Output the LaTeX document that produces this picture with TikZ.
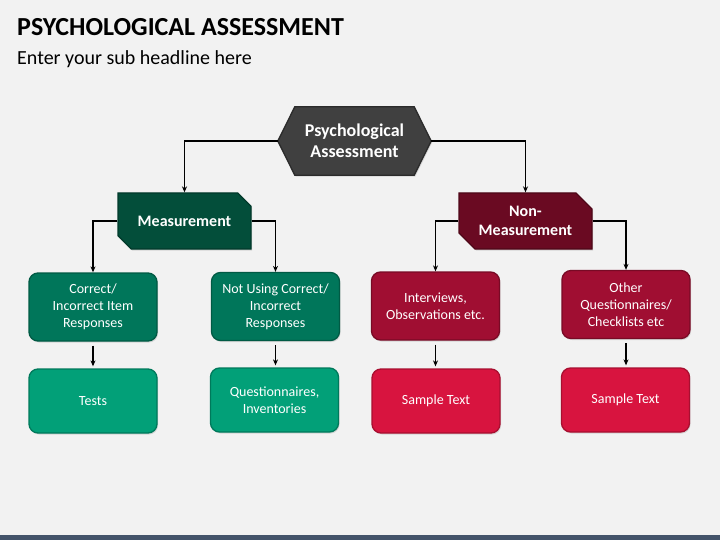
\documentclass[tikz,border=0pt]{standalone}
\usepackage{fontspec}
\setmainfont{Carlito}
\usetikzlibrary{shapes.misc,arrows.meta,backgrounds,shadows}
\definecolor{bg}{HTML}{F2F2F2}
\definecolor{barc}{HTML}{44546A}
\definecolor{hexf}{HTML}{404040}
\definecolor{hexd}{HTML}{2B2B2B}
\definecolor{gA}{HTML}{034E3A}
\definecolor{gAd}{HTML}{023A2B}
\definecolor{gB}{HTML}{00765A}
\definecolor{gBd}{HTML}{005A44}
\definecolor{gC}{HTML}{02A078}
\definecolor{gCd}{HTML}{00795B}
\definecolor{rA}{HTML}{6A0A22}
\definecolor{rAd}{HTML}{4E0718}
\definecolor{rB}{HTML}{A00E32}
\definecolor{rBd}{HTML}{780A25}
\definecolor{rC}{HTML}{D8143F}
\definecolor{rCd}{HTML}{A80F30}
\tikzset{
  shd/.style={drop shadow={shadow xshift=1pt,shadow yshift=-1.5pt,opacity=.25}},
  hexbox/.style={minimum width=153pt,minimum height=68pt,inner sep=0pt,align=center,text=white,
    font=\fontsize{18}{21}\selectfont\bfseries},
  lvlone/.style={chamfered rectangle,chamfered rectangle corners={north east,south west},
    chamfered rectangle xsep=8pt,chamfered rectangle ysep=8pt,
    minimum width=133pt,minimum height=56pt,inner sep=0pt,align=center,text=white,line width=1.3pt,
    font=\fontsize{16}{19}\selectfont\bfseries,shd},
  lvltwo/.style={rectangle,rounded corners=9pt,minimum width=128pt,minimum height=68pt,inner sep=0pt,
    align=center,text=white,line width=1.3pt,font=\fontsize{14}{17}\selectfont,shd},
  lvlthree/.style={lvltwo,minimum height=64pt},
  conn/.style={line width=1.5pt,draw=black},
  arr/.style={conn,-{Stealth[length=6pt,width=5pt]}}
}
\begin{document}
\begin{tikzpicture}[x=1pt,y=-1pt]
\useasboundingbox (0,0) rectangle (720,540);
\begin{scope}[on background layer]
\fill[bg] (0,0) rectangle (720,540);
\fill[barc] (0,535) rectangle (720,540);
\end{scope}
\node[anchor=base west,font=\fontsize{26}{30}\selectfont\bfseries,inner sep=0pt] (title) at (17,36) {PSYCHOLOGICAL ASSESSMENT};
\node[anchor=base west,font=\fontsize{20}{24}\selectfont,inner sep=0pt] (sub) at (17,65) {Enter your sub headline here};

\node[hexbox] (hex) at (354.5,141) {Psychological\\Assessment};
\begin{scope}[on background layer]
\draw[fill=hexf,draw=hexd,line width=1.3pt,shd] (hex.west) -- ([xshift=17pt]hex.north west) -- ([xshift=-17pt]hex.north east) -- (hex.east) -- ([xshift=-17pt]hex.south east) -- ([xshift=17pt]hex.south west) -- cycle;
\end{scope}

\node[lvlone,fill=gA,draw=gAd] (meas) at (184.5,221) {Measurement};
\node[lvlone,fill=rA,draw=rAd] (nonm) at (525.5,221) {Non-\\Measurement};

\node[lvltwo,fill=gB,draw=gBd] (g2a) at (93,307) {Correct/\\Incorrect Item\\Responses};
\node[lvltwo,fill=gB,draw=gBd] (g2b) at (275.5,306.5) {Not Using Correct/\\Incorrect\\Responses};
\node[lvltwo,fill=rB,draw=rBd] (r2a) at (435.5,306) {Interviews,\\Observations etc.};
\node[lvltwo,fill=rB,draw=rBd] (r2b) at (626,304.5) {Other\\Questionnaires/\\Checklists etc};

\node[lvlthree,fill=gC,draw=gCd] (g3a) at (93,401) {Tests};
\node[lvlthree,fill=gC,draw=gCd] (g3b) at (274.5,400) {Questionnaires,\\Inventories};
\node[lvlthree,fill=rC,draw=rCd] (r3a) at (436,401) {Sample Text};
\node[lvlthree,fill=rC,draw=rCd] (r3b) at (625.5,400) {Sample Text};

\draw[arr] (hex.west) -| (meas.north);
\draw[arr] (hex.east) -| (nonm.north);
\draw[arr] (meas.west) -| (g2a.north);
\draw[arr] (meas.east) -| (g2b.north);
\draw[arr] (nonm.west) -| (r2a.north);
\draw[arr] (nonm.east) -| (r2b.north);
\foreach \a/\b in {g2a/g3a,g2b/g3b,r2a/r3a,r2b/r3b}
  \draw[arr,shorten <=4pt,shorten >=2pt] (\a.south) -- (\a.south |- \b.north);
\end{tikzpicture}
\end{document}
